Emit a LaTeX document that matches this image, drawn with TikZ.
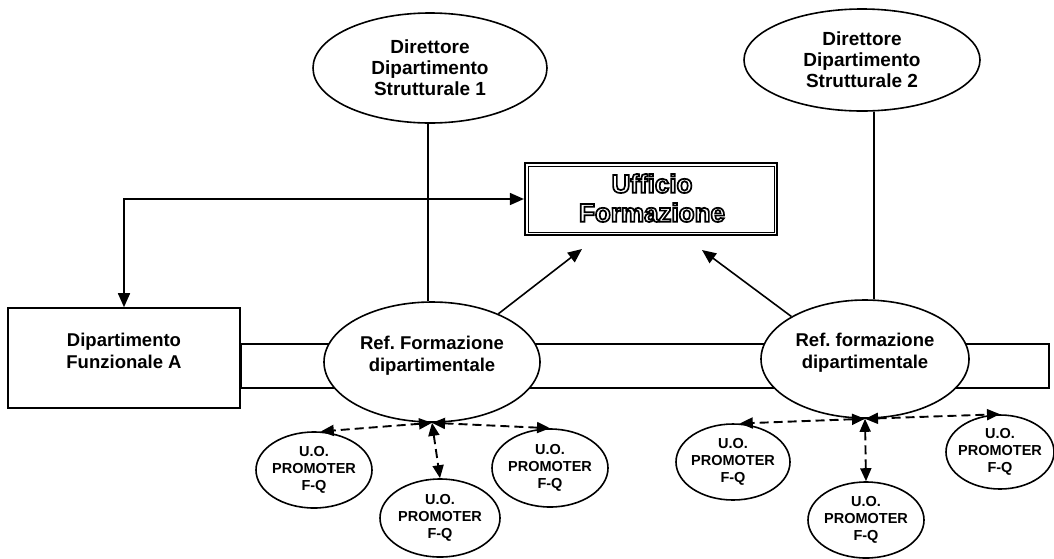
\documentclass[tikz,border=0pt]{standalone}
\usepackage{fontspec}
\setmainfont{Liberation Sans}
\usetikzlibrary{arrows.meta,shapes.geometric,calc}
\newcommand\outltxt[1]{\special{pdf:literal direct 2 Tr 1.7 w 0 G}#1\special{pdf:literal direct 0 Tr}}
\begin{document}
\begin{tikzpicture}[x=1pt,y=-1pt,
  ln/.style={line width=1.6pt},
  ar/.style={ln, -{Triangle[length=14pt,width=12pt]}},
  ar2/.style={ln, {Triangle[length=14pt,width=12pt]}-{Triangle[length=14pt,width=12pt]}},
  dar/.style={line width=1.9pt, dash pattern=on 9pt off 5pt, {Triangle[length=13pt,width=11pt]}-{Triangle[length=13pt,width=11pt]}},
  ov/.style={ellipse, draw, ln, fill=white, inner sep=0pt},
  lbl/.style={align=center, inner sep=0pt},
  big/.style={font=\fontsize{18.5}{22}\selectfont\bfseries},
  dir/.style={font=\fontsize{19}{21}\selectfont\bfseries},
  uo/.style={font=\fontsize{14.5}{17}\selectfont\bfseries},
]
\useasboundingbox (0,0) rectangle (1054,558);
\fill[white] (0,0) rectangle (1054,558);

% band
\node[draw, ln, fill=white, minimum width=808, minimum height=44, anchor=west, inner sep=0pt] (band) at (240,366) {};

% top ellipses
\node[ov, minimum width=234, minimum height=110, label={[lbl,dir]center:Direttore\\Dipartimento\\Strutturale 1}] (D1) at (430,68) {};
\node[ov, minimum width=236, minimum height=102, label={[lbl,dir]center:Direttore\\Dipartimento\\Strutturale 2}] (D2) at (862,60) {};

% Ufficio Formazione
\node[draw, line width=2.2pt, fill=white, minimum width=252, minimum height=72, inner sep=0pt] (UF) at (651,199) {};
\draw[line width=0.7pt] ($(UF.north west)+(4,4)$) rectangle ($(UF.south east)+(-4,-4)$);
\node[lbl, text=white, font=\fontsize{26}{29}\selectfont\bfseries] (UFt) at (652,198) {\outltxt{Ufficio}\\\outltxt{Formazione}};

% Dipartimento funzionale
\node[draw, ln, fill=white, minimum width=232, minimum height=100, inner sep=0pt,
  label={[lbl,big,yshift=7pt]center:Dipartimento\\Funzionale A}] (DFA) at (124,358) {};

% Ref ellipses
\node[ov, minimum width=216, minimum height=120, label={[lbl,big,yshift=6pt]center:Ref.\ Formazione\\dipartimentale}] (R1) at (432,362) {};
\node[ov, minimum width=208, minimum height=118, label={[lbl,big,yshift=6pt]center:Ref.\ formazione\\dipartimentale}] (R2) at (865,359) {};

% UO ellipses
\node[ov, minimum width=116, minimum height=76, label={[lbl,uo]center:U.O.\\PROMOTER\\F-Q}] (UL1) at (314,470) {};
\node[ov, minimum width=120, minimum height=78, label={[lbl,uo]center:U.O.\\PROMOTER\\F-Q}] (UL2) at (440,518) {};
\node[ov, minimum width=116, minimum height=78, label={[lbl,uo]center:U.O.\\PROMOTER\\F-Q}] (UL3) at (550,468) {};
\node[ov, minimum width=114, minimum height=76, label={[lbl,uo]center:U.O.\\PROMOTER\\F-Q}] (UR1) at (733,462) {};
\node[ov, minimum width=116, minimum height=76, label={[lbl,uo]center:U.O.\\PROMOTER\\F-Q}] (UR2) at (866,520) {};
\node[ov, minimum width=108, minimum height=74, label={[lbl,uo]center:U.O.\\PROMOTER\\F-Q}] (UR3) at (1000,452) {};

% connectors
\coordinate (v1) at (428,150);
\coordinate (v2) at (874,150);
\draw[ln] (v1 |- D1.south) -- (v1 |- R1.north);
\draw[ln] (v2 |- D2.south) -- (v2 |- R2.north);
\draw[ar2] (DFA.north) |- (UF.west);
\coordinate (t1) at (582,249);
\coordinate (t2) at (702,250);
\draw[ar] (R1.36) -- (t1);
\draw[ar] (R2.150) -- (t2);

\coordinate (h1) at (R1.south);
\coordinate (h2) at (R2.south);
\draw[dar] (h1) -- (UL1.80);
\draw[dar] (h1) -- (UL3.north);
\draw[dar] (h1) -- (UL2.north);
\draw[dar] (h2) -- (UR1.80);
\draw[dar] (h2) -- (UR3.north);
\draw[dar] (h2) -- (UR2.north);
\end{tikzpicture}
\end{document}
